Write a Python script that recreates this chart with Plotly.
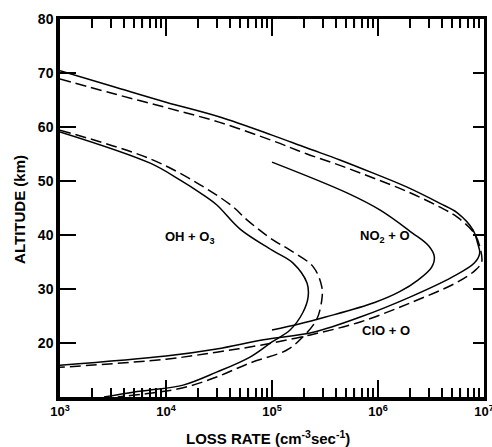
import plotly.graph_objects as go

# ClO + O (solid / dashed)
clo_alt = [70.4, 67.5, 64.6, 61.9, 58.5, 56.1, 53.9, 51.5, 48.9, 45.9, 44.1, 40.9, 38.5, 36.6, 34.8, 32.2, 28.5, 24.8, 22.0, 20.6, 18.9, 17.6, 15.9]
clo_rate = [1.0e3, 3.16e3, 1.0e4, 3.16e4, 1.0e5, 2.14e5, 4.37e5, 8.9e5, 1.86e6, 3.8e6, 5.6e6, 7.9e6, 8.7e6, 9.1e6, 8.1e6, 5.0e6, 2.0e6, 6.8e5, 2.45e5, 8.3e4, 3.0e4, 1.0e4, 1.0e3]
clo_d_alt = [68.9, 66.2, 63.6, 60.9, 57.5, 55.0, 52.9, 50.6, 48.1, 45.2, 43.3, 40.3, 37.2, 35.0, 33.5, 31.1, 27.4, 23.9, 21.5, 19.6, 18.3, 17.0, 15.5]
clo_d_rate = [1.0e3, 3.16e3, 1.0e4, 3.16e4, 1.0e5, 2.14e5, 4.37e5, 8.9e5, 1.86e6, 3.8e6, 5.6e6, 8.1e6, 9.3e6, 9.5e6, 8.3e6, 5.4e6, 2.0e6, 6.8e5, 2.3e5, 7.8e4, 3.0e4, 1.0e4, 1.0e3]

# NO2 + O (solid)
no2_alt = [53.5, 47.8, 44.6, 40.4, 38.0, 36.0, 34.0, 31.7, 29.5, 27.5, 24.8, 23.5, 22.4]
no2_rate = [1.0e5, 5.1e5, 1.05e6, 2.1e6, 3.0e6, 3.4e6, 3.2e6, 2.4e6, 1.6e6, 9.3e5, 3.2e5, 1.8e5, 1.0e5]

# OH + O3 (solid / dashed)
oh_alt = [59.1, 53.3, 50.2, 47.8, 45.6, 41.1, 37.2, 34.8, 31.1, 28.5, 25.6, 22.4, 20.2, 17.4, 14.6, 12.2, 11.3, 10.9, 10.0]
oh_rate = [1.0e3, 7.1e3, 1.35e4, 2.1e4, 3.0e4, 5.0e4, 1.0e5, 1.58e5, 2.14e5, 2.19e5, 1.95e5, 1.48e5, 1.0e5, 6.2e4, 3.0e4, 1.45e4, 7.1e3, 4.9e3, 2.6e3]
oh_d_alt = [59.4, 54.1, 49.3, 45.2, 42.8, 39.1, 37.2, 34.1, 30.4, 28.0, 24.3, 21.1, 18.7, 16.3, 13.7, 11.7, 10.7, 10.0]
oh_d_rate = [1.0e3, 7.1e3, 2.1e4, 4.3e4, 5.8e4, 1.02e5, 1.48e5, 2.45e5, 2.95e5, 2.95e5, 2.63e5, 1.95e5, 1.38e5, 6.2e4, 3.0e4, 1.45e4, 7.1e3, 3.5e3]

x_tickvals = [1e3, 1e4, 1e5, 1e6, 1e7]
x_ticktext = ["<b>10<sup>3</sup></b>", "<b>10<sup>4</sup></b>", "<b>10<sup>5</sup></b>",
              "<b>10<sup>6</sup></b>", "<b>10<sup>7</sup></b>"]
x_minor = [m * 10 ** e for e in range(3, 7) for m in range(2, 10)]
y_tickvals = [20, 30, 40, 50, 60, 70, 80]
y_ticktext = ["<b>20</b>", "<b>30</b>", "<b>40</b>", "<b>50</b>", "<b>60</b>", "<b>70</b>", "<b>80</b>"]

FONT = "Liberation Sans"
PLOT_W, PLOT_H = 424, 378
fig = go.Figure()

def add(x, y, dash):
    fig.add_trace(go.Scatter(x=x, y=y, mode="lines",
                             line=dict(color="black", width=1.5, dash=dash, shape="spline", smoothing=1.0),
                             showlegend=False, hoverinfo="skip"))

add(clo_rate, clo_alt, "solid")
add(clo_d_rate, clo_d_alt, "11px,5px")
add(no2_rate, no2_alt, "solid")
add(oh_rate, oh_alt, "solid")
add(oh_d_rate, oh_d_alt, "11px,5px")

# invisible trace to anchor the top and right frame axes
fig.add_trace(go.Scatter(x=[1e3, 1e7], y=[10, 80], xaxis="x2", yaxis="y2", mode="lines",
                         line=dict(color="rgba(0,0,0,0)"), showlegend=False, hoverinfo="skip"))

fig.update_layout(
    width=492, height=447,
    margin=dict(l=60, r=8, t=19, b=50),
    plot_bgcolor="white", showlegend=False,
    font=dict(family=FONT, color="black"),
    xaxis=dict(type="log", range=[3, 7], tickvals=x_tickvals, ticktext=x_ticktext,
               ticks="inside", ticklen=17, tickwidth=2, tickcolor="black",
               minor=dict(ticks="inside", ticklen=9, tickwidth=1.5, tickcolor="black", tickvals=x_minor),
               showline=True, linewidth=3.5, linecolor="black", automargin=False,
               ticklabeloverflow="allow", tickfont=dict(size=13)),
    xaxis2=dict(type="log", range=[3, 7], overlaying="x", side="top",
                tickvals=x_tickvals, showticklabels=False,
                ticks="inside", ticklen=17, tickwidth=2, tickcolor="black",
                minor=dict(ticks="inside", ticklen=9, tickwidth=1.5, tickcolor="black", tickvals=x_minor),
                showline=True, linewidth=2.5, linecolor="black", automargin=False),
    yaxis=dict(range=[10, 80], tickvals=y_tickvals, ticktext=y_ticktext, ticks="inside",
               ticklen=16, tickwidth=2, tickcolor="black",
               showline=True, linewidth=3.5, linecolor="black", automargin=False,
               tickfont=dict(size=14)),
    yaxis2=dict(range=[10, 80], overlaying="y", side="right", tickvals=y_tickvals,
                showticklabels=False, ticks="inside", ticklen=11, tickwidth=2, tickcolor="black",
                showline=True, linewidth=3, linecolor="black", automargin=False),
)

# tick marks of the frame, placed at the axis tick values (fallback in case axis ticks do not draw)
tick_line = dict(color="black", width=1.5)
for v in x_tickvals[1:-1]:
    for y0, y1 in [(0, 17 / PLOT_H), (1, 1 - 17 / PLOT_H)]:
        fig.add_shape(type="line", xref="x", yref="paper", x0=v, x1=v, y0=y0, y1=y1,
                      line=tick_line, layer="above")
for v in x_minor:
    for y0, y1 in [(0, 9 / PLOT_H), (1, 1 - 9 / PLOT_H)]:
        fig.add_shape(type="line", xref="x", yref="paper", x0=v, x1=v, y0=y0, y1=y1,
                      line=dict(color="black", width=1.2), layer="above")
for v in y_tickvals[:-1]:
    fig.add_shape(type="line", xref="paper", yref="y", x0=0, x1=16 / PLOT_W, y0=v, y1=v,
                  line=tick_line, layer="above")
    fig.add_shape(type="line", xref="paper", yref="y", x0=1, x1=1 - 11 / PLOT_W, y0=v, y1=v,
                  line=tick_line, layer="above")

fig.add_annotation(text="<b>ALTITUDE (km)</b>", xref="paper", yref="paper", x=-40/424, y=0.495,
                   xanchor="center", yanchor="middle",
                   textangle=-90, showarrow=False, font=dict(size=15))
fig.add_annotation(text="<b>LOSS RATE (cm<sup>-3</sup>sec<sup>-1</sup>)</b>", xref="paper", yref="paper",
                   x=0.49, y=-40/378, xanchor="center", yanchor="middle", showarrow=False,
                   font=dict(size=15))
fig.add_annotation(text="<b>OH + O<sub>3</sub></b>", x=4.23, y=39.6, xref="x", yref="y", showarrow=False,
                   font=dict(size=13))
fig.add_annotation(text="<b>NO<sub>2</sub> + O</b>", x=6.07, y=39.8, xref="x", yref="y", showarrow=False,
                   font=dict(size=13))
fig.add_annotation(text="<b>ClO + O</b>", x=6.08, y=22.4, xref="x", yref="y", showarrow=False,
                   font=dict(size=13))

fig.write_html("out.html", config={"displayModeBar": False},
               post_script="document.body.style.margin='0';document.body.style.padding='0';")
